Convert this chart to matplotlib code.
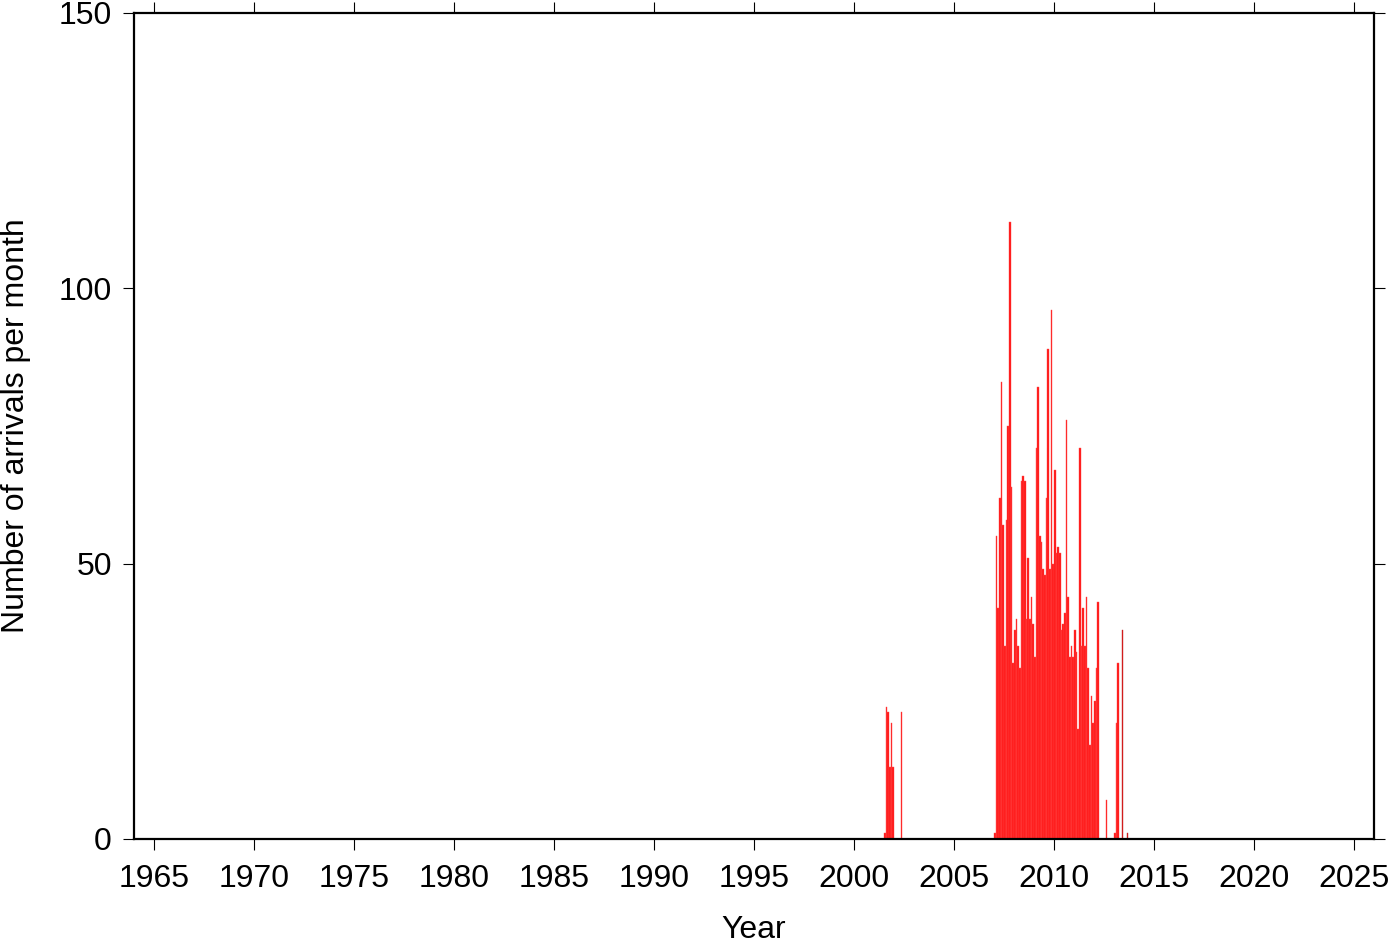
import numpy as np
import matplotlib
matplotlib.use("Agg")
import matplotlib.pyplot as plt

plt.rcParams['font.family'] = ['Liberation Sans', 'DejaVu Sans']

# Monthly arrival counts
# 2001-07 .. 2001-12
counts_2001 = [1, 24, 23, 13, 21, 13]
start_2001 = (2001, 7)
# single month 2002-05
counts_2002 = [23]
start_2002 = (2002, 5)
# 2007-01 .. 2013-09
counts_2007 = [1, 55, 42, 62, 83, 57, 35, 58, 75, 112, 64, 32,
               38, 40, 35, 31, 65, 66, 65, 40, 51, 40, 44, 39,
               33, 71, 82, 55, 54, 49, 48, 62, 89, 49, 96, 50,
               67, 52, 53, 52, 38, 39, 41, 76, 44, 33, 35, 33,
               38, 34, 20, 71, 35, 42, 35, 44, 31, 17, 26, 21,
               25, 31, 43, 0, 0, 0, 0, 7, 0, 0, 0, 0,
               1, 21, 32, 0, 0, 0, 0, 0, 0]
start_2007 = (2007, 1)
# partial-month samples (thin bars)
thin_months = [(2013, 6), (2013, 9)]
thin_counts = [38, 1]


def month_times(start, n):
    y, m = start
    t0 = y + (m - 1) / 12.0
    return t0 + np.arange(n) / 12.0


fig = plt.figure(figsize=(14, 9.42), dpi=100)
ax = fig.add_axes([134 / 1400, 1 - 839 / 942, (1374 - 134) / 1400, (839 - 13) / 942])

face = '#ff1414'
edge = '#ff4d4d'
for start, vals in [(start_2001, counts_2001), (start_2002, counts_2002), (start_2007, counts_2007)]:
    t = month_times(start, len(vals))
    v = np.array(vals, dtype=float)
    mask = v > 0
    ax.bar(t[mask], v[mask], width=1 / 12.0, align='edge',
           color=face, edgecolor=edge, linewidth=0.3)

for (yy, mm), c in zip(thin_months, thin_counts):
    t = yy + (mm - 1) / 12.0
    ax.bar([t], [c], width=0.04, align='edge', color='#e01010',
           edgecolor='#c03030', linewidth=0.3)

ax.set_xlim(1964, 2026)
ax.set_ylim(0, 150)
ax.set_xticks(np.arange(1965, 2026, 5))
ax.set_yticks([0, 50, 100, 150])

for s in ax.spines.values():
    s.set_linewidth(1.6)
    s.set_color('black')

ax.tick_params(axis='both', which='major', direction='out', length=8,
               width=0.8, labelsize=23, top=True, right=True,
               labeltop=False, labelright=False, pad=8)
ax.tick_params(axis='x', pad=10)

ax.set_xlabel('Year', fontsize=23, labelpad=15)
ax.set_ylabel('Number of arrivals per month', fontsize=23, labelpad=20)

fig.savefig('out.png', dpi=100)
